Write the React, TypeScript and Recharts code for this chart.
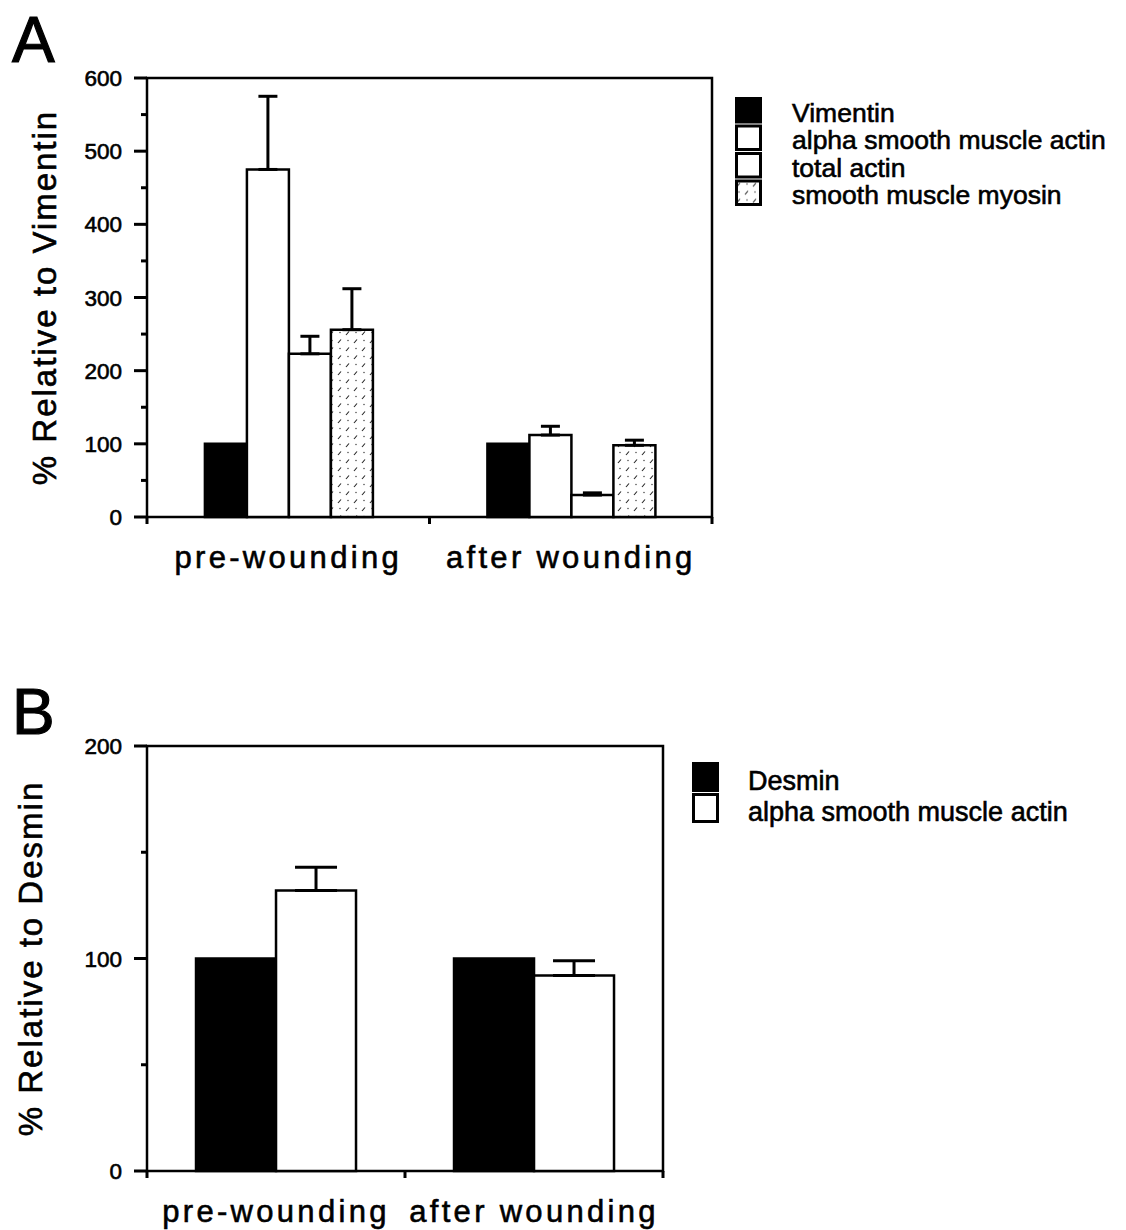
import React from 'react'
import { BarChart, Bar, XAxis, YAxis, ErrorBar, ReferenceArea, Legend } from 'recharts'

const FONT = '"Liberation Sans", Arial, Helvetica, sans-serif'
const INK = '#000'
// scanned-print look: thicken the regular face a little
const heavy = { stroke: INK, strokeWidth: 0.6 }

// Panel A: expression relative to vimentin
const stagesA = ['pre-wounding', 'after wounding']
const vimentinA = [100, 100]
const asmaA = [475, 112]
const asmaErrA = [100, 12]
const totalActinA = [223, 30]
const totalActinErrA = [24, 3]
const myosinA = [256, 98]
const myosinErrA = [56, 7]
const yTicksA = [0, 50, 100, 150, 200, 250, 300, 350, 400, 450, 500, 550, 600]

// Panel B: expression relative to desmin
const stagesB = ['pre-wounding', 'after wounding']
const desminB = [100, 100]
const asmaB = [132, 92]
const asmaErrB = [11, 7]
const yTicksB = [0, 50, 100, 150, 200]

const seriesA = [
  { key: 'vimentin', name: 'Vimentin', fill: INK },
  { key: 'asma', name: 'alpha smooth muscle actin', fill: '#fff', err: 'asmaErr' },
  { key: 'totalActin', name: 'total actin', fill: '#fff', err: 'totalActinErr' },
  { key: 'myosin', name: 'smooth muscle myosin', fill: 'url(#myosinHatch)', err: 'myosinErr' },
]

const seriesB = [
  { key: 'desmin', name: 'Desmin', fill: INK },
  { key: 'asma', name: 'alpha smooth muscle actin', fill: '#fff', err: 'asmaErr' },
]

const dataA = stagesA.map((stage, i) => ({
  stage,
  vimentin: vimentinA[i],
  asma: asmaA[i],
  asmaErr: [0, asmaErrA[i]],
  totalActin: totalActinA[i],
  totalActinErr: [0, totalActinErrA[i]],
  myosin: myosinA[i],
  myosinErr: [0, myosinErrA[i]],
}))

const dataB = stagesB.map((stage, i) => ({
  stage,
  desmin: desminB[i],
  asma: asmaB[i],
  asmaErr: [0, asmaErrB[i]],
}))

// left axis: long ticks with labels every 100, short unlabelled ticks at 50s
const YTick = (props: any) => {
  const { x, y, payload } = props
  const major = payload.value % 100 === 0
  return (
    <g>
      <line x1={x - (major ? 13 : 6)} y1={y} x2={x} y2={y} stroke={INK} strokeWidth={3} />
      {major && (
        <text x={x - 25} y={y + 8} textAnchor="end" fontSize={22.5} fontFamily={FONT} fill={INK} {...heavy}>
          {payload.value}
        </text>
      )}
    </g>
  )
}

// bottom axis: ticks sit on the group boundaries, labels under the group centres
const XTick = (props: any) => {
  const { x, y, payload, index, visibleTicksCount } = props
  const half = payload.offset || 0
  const last = index === visibleTicksCount - 1
  return (
    <g>
      <line x1={x - half} y1={y} x2={x - half} y2={y + 7} stroke={INK} strokeWidth={3} />
      {last && <line x1={x + half} y1={y} x2={x + half} y2={y + 7} stroke={INK} strokeWidth={3} />}
      <text x={x} y={y + 51} textAnchor="middle" fontSize={31} letterSpacing={3.3} fontFamily={FONT} fill={INK} {...heavy}>
        {payload.value}
      </text>
    </g>
  )
}

const axisTitle = (text: string, cx: number) => (props: any) => {
  const vb = props.viewBox
  const cy = vb.y + vb.height / 2
  return (
    <text
      x={cx}
      y={cy}
      transform={`rotate(-90 ${cx} ${cy})`}
      textAnchor="middle"
      dominantBaseline="central"
      fontSize={33}
      letterSpacing={2}
      fontFamily={FONT}
      fill={INK}
      {...heavy}
    >
      {text}
    </text>
  )
}

type Item = { name: string; fill: string }

const LegendBox = ({ items, fontSize, rowH, textX }: { items: Item[]; fontSize: number; rowH: number; textX: number }) => (
  <svg width={400} height={items.length * rowH + 8} style={{ display: 'block', overflow: 'visible' }}>
    {items.map((it, i) => (
      <g key={it.name} transform={`translate(0 ${i * rowH})`}>
        <rect x={1.5} y={1.5} width={24} height={rowH - 4} fill={it.fill} stroke={INK} strokeWidth={3} />
        <text x={textX} y={rowH - 3} fontSize={fontSize} fontFamily={FONT} fill={INK} {...heavy}>
          {it.name}
        </text>
      </g>
    ))}
  </svg>
)

const PanelLetter = ({ letter, top }: { letter: string; top: number }) => (
  <svg width={90} height={80} style={{ position: 'absolute', left: 0, top }}>
    <text x={12} y={62} fontSize={64} fontFamily={FONT} fill={INK} stroke={INK} strokeWidth={1.2}>
      {letter}
    </text>
  </svg>
)

export default function App() {
  return (
    <div style={{ position: 'absolute', left: 0, top: 0, width: 1126, height: 1230, background: '#fff', overflow: 'hidden' }}>
      <svg width={0} height={0} style={{ position: 'absolute' }}>
        <defs>
          <pattern id="myosinHatch" patternUnits="userSpaceOnUse" width={16} height={16}>
            <rect width={16} height={16} fill="#fff" />
            <line x1={2} y1={7} x2={5} y2={3.5} stroke="#222" strokeWidth={1.1} />
            <line x1={10} y1={15} x2={13} y2={11.5} stroke="#222" strokeWidth={1.1} />
            <circle cx={12} cy={4.5} r={0.8} fill="#555" />
            <circle cx={4} cy={12.5} r={0.8} fill="#555" />
          </pattern>
        </defs>
      </svg>

      <PanelLetter letter="A" top={0} />
      <div style={{ position: 'absolute', left: 0, top: 0 }}>
        <BarChart
          width={1126}
          height={600}
          data={dataA}
          margin={{ top: 78, right: 414, bottom: 0, left: 0 }}
          barGap={0}
          barCategoryGap="20.5%"
        >
          <ReferenceArea y1={0} y2={600} fill="none" stroke={INK} strokeWidth={2.5} ifOverflow="visible" />
          <XAxis dataKey="stage" height={83} axisLine={false} tickLine={false} tickSize={0} tickMargin={0} interval={0} tick={XTick} />
          <YAxis
            width={147}
            domain={[0, 600]}
            ticks={yTicksA}
            interval={0}
            axisLine={false}
            tickLine={false}
            tickSize={0}
            tickMargin={0}
            tick={YTick}
            label={axisTitle('% Relative to Vimentin', 44)}
          />
          {seriesA.map((s) => (
            <Bar key={s.key} dataKey={s.key} name={s.name} fill={s.fill} stroke={INK} strokeWidth={2.5} isAnimationActive={false}>
              {s.err && <ErrorBar dataKey={s.err} width={9.5} stroke={INK} strokeWidth={3} direction="y" isAnimationActive={false} />}
            </Bar>
          ))}
          <Legend
            layout="horizontal"
            verticalAlign="middle"
            align="center"
            width={380}
            wrapperStyle={{ left: 735, top: 97 }}
            content={() => <LegendBox items={seriesA} fontSize={26.5} rowH={27.5} textX={57} />}
          />
        </BarChart>
      </div>

      <PanelLetter letter="B" top={672} />
      <div style={{ position: 'absolute', left: 0, top: 660 }}>
        <BarChart
          width={1126}
          height={570}
          data={dataB}
          margin={{ top: 86, right: 463, bottom: 0, left: 0 }}
          barGap={0}
          barCategoryGap="19%"
        >
          <ReferenceArea y1={0} y2={200} fill="none" stroke={INK} strokeWidth={2.5} ifOverflow="visible" />
          <XAxis dataKey="stage" height={59} axisLine={false} tickLine={false} tickSize={0} tickMargin={0} interval={0} tick={XTick} />
          <YAxis
            width={147}
            domain={[0, 200]}
            ticks={yTicksB}
            interval={0}
            axisLine={false}
            tickLine={false}
            tickSize={0}
            tickMargin={0}
            tick={YTick}
            label={axisTitle('% Relative to Desmin', 30)}
          />
          {seriesB.map((s) => (
            <Bar key={s.key} dataKey={s.key} name={s.name} fill={s.fill} stroke={INK} strokeWidth={2.5} isAnimationActive={false}>
              {s.err && <ErrorBar dataKey={s.err} width={21} stroke={INK} strokeWidth={3} direction="y" isAnimationActive={false} />}
            </Bar>
          ))}
          <Legend
            layout="horizontal"
            verticalAlign="middle"
            align="center"
            width={380}
            wrapperStyle={{ left: 692, top: 102 }}
            content={() => <LegendBox items={seriesB} fontSize={27} rowH={31} textX={56} />}
          />
        </BarChart>
      </div>
    </div>
  )
}
